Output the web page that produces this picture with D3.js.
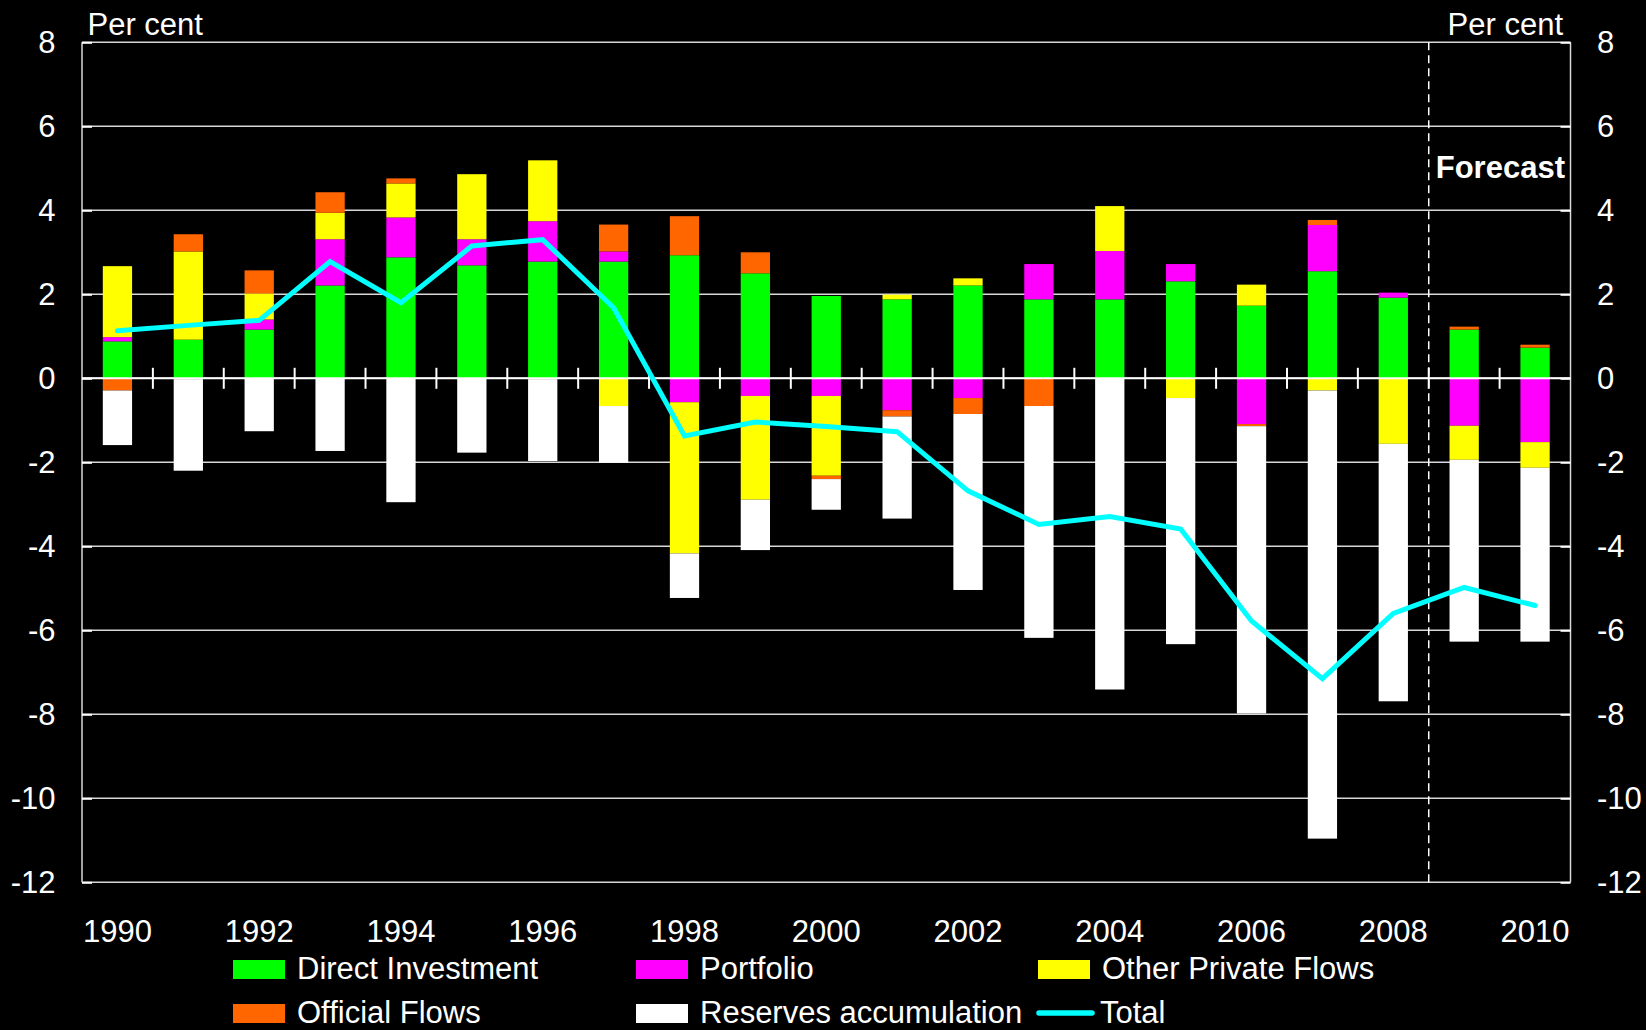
<!DOCTYPE html>
<html>
<head>
<meta charset="utf-8">
<script src="https://cdn.jsdelivr.net/npm/d3@7"></script>
<style>
  html, body { margin: 0; padding: 0; background: #000; }
  svg { display: block; font-family: "Liberation Sans", Arial, sans-serif; }
</style>
</head>
<body>
<svg id="chart" width="1646" height="1030"></svg>
<script>
// Capital flows by component, per cent of GDP
const years = [1990, 1991, 1992, 1993, 1994, 1995, 1996, 1997, 1998, 1999, 2000,
               2001, 2002, 2003, 2004, 2005, 2006, 2007, 2008, 2009, 2010];
const directInvestment = [0.88, 0.92, 1.16, 2.21, 2.88, 2.69, 2.78, 2.78, 2.93, 2.50, 1.96,
                          1.88, 2.21, 1.88, 1.88, 2.31, 1.73, 2.55, 1.92, 1.16, 0.73];
const portfolio = [0.10, -0.02, 0.24, 1.10, 0.95, 0.62, 0.96, 0.24, -0.57, -0.42, -0.42,
                   -0.76, -0.47, 0.84, 1.15, 0.41, -1.09, 1.10, 0.12, -1.13, -1.52];
const otherPrivate = [1.69, 2.10, 0.62, 0.63, 0.81, 1.55, 1.45, -0.66, -3.60, -2.47, -1.90,
                      0.11, 0.17, 0.00, 1.07, -0.47, 0.50, -0.29, -1.56, -0.81, -0.61];
const officialFlows = [-0.29, 0.41, 0.55, 0.49, 0.12, 0.00, -0.02, 0.64, 0.93, 0.50, -0.08,
                       -0.15, -0.38, -0.66, 0.00, 0.00, -0.05, 0.12, 0.00, 0.07, 0.07];
const reserves = [-1.30, -2.18, -1.26, -1.73, -2.95, -1.77, -1.95, -1.35, -1.06, -1.20, -0.73,
                  -2.43, -4.19, -5.52, -7.41, -5.86, -6.84, -10.67, -6.13, -4.33, -4.14];
const total = [1.13, 1.26, 1.38, 2.78, 1.80, 3.15, 3.30, 1.68, -1.37, -1.04, -1.15,
               -1.27, -2.68, -3.48, -3.29, -3.59, -5.78, -7.15, -5.60, -4.98, -5.41];

const yTicks = [8, 6, 4, 2, 0, -2, -4, -6, -8, -10, -12];
const xLabelYears = [1990, 1992, 1994, 1996, 1998, 2000, 2002, 2004, 2006, 2008, 2010];
const forecastStart = 2009;

const seriesKeys = ["di", "portfolio", "other", "official", "reserves"];
const seriesNames = {
  di: "Direct Investment", portfolio: "Portfolio", other: "Other Private Flows",
  official: "Official Flows", reserves: "Reserves accumulation"
};
const colors = {
  di: "#00ff00", portfolio: "#ff00ff", other: "#ffff00",
  official: "#ff6600", reserves: "#ffffff", total: "#00ffff"
};

const rows = years.map((yr, i) => ({
  year: yr,
  di: directInvestment[i],
  portfolio: portfolio[i],
  other: otherPrivate[i],
  official: officialFlows[i],
  reserves: reserves[i]
}));

const svg = d3.select("#chart");
const plotLeft = 82, plotRight = 1570.5, plotTop = 42.3, plotBottom = 882.3;
const fontSize = 31;

const x = d3.scaleBand()
  .domain(years)
  .range([plotLeft, plotRight])
  .paddingInner(0.587)
  .paddingOuter(0.2935);
const y = d3.scaleLinear().domain([-12, 8]).range([plotBottom, plotTop]);
const boundary = yr => x(yr) - (x.step() - x.bandwidth()) / 2;

// horizontal gridlines
svg.append("g")
  .selectAll("line")
  .data(yTicks)
  .join("line")
  .attr("x1", plotLeft).attr("x2", plotRight)
  .attr("y1", d => y(d)).attr("y2", d => y(d))
  .attr("stroke", "#d8d8d8")
  .attr("stroke-width", 1.5);

// frame sides
svg.append("g").selectAll("line")
  .data([plotLeft, plotRight])
  .join("line")
  .attr("x1", d => d).attr("x2", d => d)
  .attr("y1", plotTop).attr("y2", plotBottom)
  .attr("stroke", "#d8d8d8")
  .attr("stroke-width", 1.5);

// inward tick marks on both value axes
const axisLeft = d3.axisLeft(y).tickValues(yTicks).tickSize(-10).tickFormat("");
const axisRight = d3.axisRight(y).tickValues(yTicks).tickSize(-10).tickFormat("");
svg.append("g").attr("transform", `translate(${plotLeft},0)`).call(axisLeft)
  .call(g => g.select(".domain").remove())
  .selectAll("line").attr("stroke", "#fff").attr("stroke-width", 2);
svg.append("g").attr("transform", `translate(${plotRight},0)`).call(axisRight)
  .call(g => g.select(".domain").remove())
  .selectAll("line").attr("stroke", "#fff").attr("stroke-width", 2);

// value labels on both sides
svg.append("g").selectAll("text")
  .data(yTicks)
  .join("text")
  .attr("x", 55.5).attr("y", d => y(d))
  .attr("dy", "0.35em")
  .attr("text-anchor", "end")
  .attr("fill", "#fff")
  .attr("font-size", fontSize)
  .text(d => d);
svg.append("g").selectAll("text")
  .data(yTicks)
  .join("text")
  .attr("x", 1597).attr("y", d => y(d))
  .attr("dy", "0.35em")
  .attr("text-anchor", "start")
  .attr("fill", "#fff")
  .attr("font-size", fontSize)
  .text(d => d);

svg.append("text").attr("x", 87.5).attr("y", 35).attr("fill", "#fff")
  .attr("font-size", fontSize).text("Per cent");
svg.append("text").attr("x", 1563).attr("y", 35).attr("fill", "#fff")
  .attr("text-anchor", "end").attr("font-size", fontSize).text("Per cent");

// stacked bars, positive and negative parts stacked away from zero
const stack = d3.stack().keys(seriesKeys).offset(d3.stackOffsetDiverging);
const layers = stack(rows);

svg.append("g")
  .selectAll("g")
  .data(layers)
  .join("g")
  .attr("fill", d => colors[d.key])
  .selectAll("rect")
  .data(d => d)
  .join("rect")
  .attr("x", d => x(d.data.year))
  .attr("width", x.bandwidth())
  .attr("y", d => y(Math.max(d[0], d[1])))
  .attr("height", d => Math.abs(y(d[0]) - y(d[1])));

// zero line with category ticks crossing it
const zeroY = y(0);
svg.append("line")
  .attr("x1", plotLeft).attr("x2", plotRight)
  .attr("y1", zeroY).attr("y2", zeroY)
  .attr("stroke", "#fff").attr("stroke-width", 2);
svg.append("g").selectAll("line")
  .data(years.slice(1))
  .join("line")
  .attr("x1", d => boundary(d)).attr("x2", d => boundary(d))
  .attr("y1", zeroY - 10.5).attr("y2", zeroY + 10.5)
  .attr("stroke", "#fff").attr("stroke-width", 2);

// year labels
svg.append("g").selectAll("text")
  .data(xLabelYears)
  .join("text")
  .attr("x", d => x(d) + x.bandwidth() / 2)
  .attr("y", 942)
  .attr("text-anchor", "middle")
  .attr("fill", "#fff")
  .attr("font-size", fontSize)
  .text(d => d);

// forecast divider
const fx = boundary(forecastStart);
svg.append("line")
  .attr("x1", fx).attr("x2", fx)
  .attr("y1", plotTop).attr("y2", plotBottom)
  .attr("stroke", "#fff").attr("stroke-width", 1.5)
  .attr("stroke-dasharray", "8,5");
svg.append("text")
  .attr("x", fx + 7).attr("y", 178)
  .attr("fill", "#fff").attr("font-weight", "bold")
  .attr("font-size", fontSize)
  .text("Forecast");

// total line
const line = d3.line()
  .x((d, i) => x(years[i]) + x.bandwidth() / 2)
  .y(d => y(d));
svg.append("path")
  .datum(total)
  .attr("d", line)
  .attr("fill", "none")
  .attr("stroke", colors.total)
  .attr("stroke-width", 5)
  .attr("stroke-linejoin", "miter")
  .attr("stroke-linecap", "round");

// legend
const legendItems = [
  { key: "di", x: 233, row: 0 },
  { key: "portfolio", x: 636, row: 0 },
  { key: "other", x: 1038, row: 0 },
  { key: "official", x: 233, row: 1 },
  { key: "reserves", x: 636, row: 1 }
];
const rowBase = [979, 1023];
const legend = svg.append("g");
legendItems.forEach(it => {
  legend.append("rect")
    .attr("x", it.x).attr("y", rowBase[it.row] - 19)
    .attr("width", 52).attr("height", 19)
    .attr("fill", colors[it.key]);
  legend.append("text")
    .attr("x", it.x + 64).attr("y", rowBase[it.row])
    .attr("fill", "#fff").attr("font-size", fontSize)
    .text(seriesNames[it.key]);
});
legend.append("line")
  .attr("x1", 1039).attr("x2", 1092)
  .attr("y1", rowBase[1] - 10).attr("y2", rowBase[1] - 10)
  .attr("stroke", colors.total).attr("stroke-width", 5.5)
  .attr("stroke-linecap", "round");
legend.append("text")
  .attr("x", 1100).attr("y", rowBase[1])
  .attr("fill", "#fff").attr("font-size", fontSize)
  .text("Total");
</script>
</body>
</html>
